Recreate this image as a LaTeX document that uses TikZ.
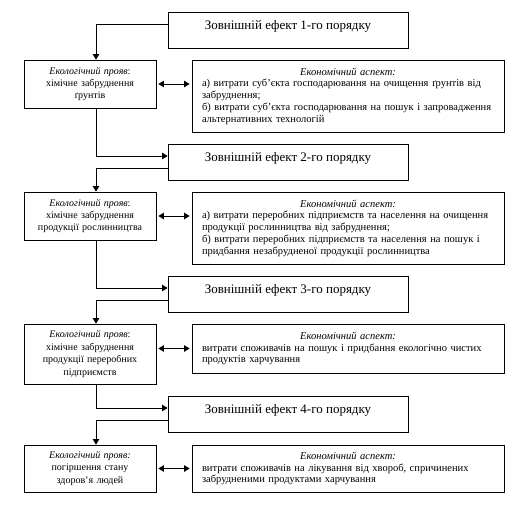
\documentclass[tikz,border=0pt]{standalone}
\usepackage{fontspec}
\setmainfont{Liberation Serif}
\usetikzlibrary{arrows.meta}
\newcommand{\ecotitle}{\makebox[292pt][c]{\textit{Економічний аспект:}}}
\begin{document}
\begin{tikzpicture}[x=1pt,y=-1pt,
  line width=0.8pt,
  ordbox/.style={draw, minimum width=240pt, align=center, font=\fontsize{13}{15}\selectfont,
    inner ysep=0pt, text height=17.5pt, text depth=18.5pt, anchor=center},
  leftbox/.style={draw, minimum width=132pt, text width=124pt, inner xsep=4pt, align=center,
    font=\fontsize{10}{12.4}\selectfont, inner ysep=0pt},
  rightbox/.style={draw, minimum width=312pt, text width=292pt, inner xsep=10pt, align=left,
    font=\fontsize{10.5}{11.8}\selectfont, inner ysep=0pt},
  arr/.style={-{Triangle[length=5.5pt,width=6.5pt]}},
  darr/.style={{Triangle[length=5.5pt,width=6.5pt]}-{Triangle[length=5.5pt,width=6.5pt]}, shorten <=2pt, shorten >=2pt}
]
\useasboundingbox (0,0) rectangle (517,505);

\node[ordbox] (B1) at (288,30) {Зовнішній ефект 1-го порядку};
\node[ordbox] (B2) at (288,162) {Зовнішній ефект 2-го порядку};
\node[ordbox] (B3) at (288,294) {Зовнішній ефект 3-го порядку};
\node[ordbox] (B4) at (288,414) {Зовнішній ефект 4-го порядку};

\node[leftbox, minimum height=48pt] (L1) at (90,84) {\textit{Екологічний прояв}:\\хімічне забруднення\\ґрунтів};
\node[leftbox, minimum height=48pt] (L2) at (90,216) {\textit{Екологічний прояв}:\\хімічне забруднення\\продукції рослинництва};
\node[leftbox, minimum height=60pt] (L3) at (90,354) {\textit{Екологічний прояв}:\\хімічне забруднення\\продукції переробних\\підприємств};
\node[leftbox, minimum height=47pt] (L4) at (90,468.5) {\textit{Екологічний прояв:}\\погіршення стану\\здоров’я людей};

\node[rightbox, minimum height=72pt] (R1) at (348,96) {\ecotitle\\а) витрати суб’єкта господарювання на очищення ґрунтів від\\забруднення;\\б) витрати суб’єкта господарювання на пошук і запровадження\\альтернативних технологій};
\node[rightbox, minimum height=72pt] (R2) at (348,228) {\ecotitle\\а) витрати переробних підприємств та населення на очищення\\продукції рослинництва від забруднення;\\б) витрати переробних підприємств та населення на пошук і\\придбання незабрудненої продукції рослинництва};
\node[rightbox, minimum height=49pt] (R3) at (348,348.5) {\ecotitle\\витрати споживачів на пошук і придбання екологічно чистих\\продуктів харчування};
\node[rightbox, minimum height=47pt] (R4) at (348,468.5) {\ecotitle\\витрати споживачів на лікування від хвороб, спричинених\\забрудненими продуктами харчування};

% vertical chain
\draw[arr] ([yshift=6pt]B1.west) -| ([xshift=6pt]L1.north);
\draw[arr] ([xshift=6pt]L1.south) |- ([yshift=6pt]B2.west);
\draw[arr] ([yshift=-6pt]B2.west) -| ([xshift=6pt]L2.north);
\draw[arr] ([xshift=6pt]L2.south) |- ([yshift=6pt]B3.west);
\draw[arr] ([yshift=-6pt]B3.west) -| ([xshift=6pt]L3.north);
\draw[arr] ([xshift=6pt]L3.south) |- ([yshift=6pt]B4.west);
\draw[arr] ([yshift=-6pt]B4.west) -| ([xshift=6pt]L4.north);

% double arrows
\draw[darr] (L1.east) -- (L1.east -| R1.west);
\draw[darr] (L2.east) -- (L2.east -| R2.west);
\draw[darr] (R3.west -| L3.east) -- (R3.west);
\draw[darr] (L4.east) -- (L4.east -| R4.west);
\end{tikzpicture}
\end{document}
